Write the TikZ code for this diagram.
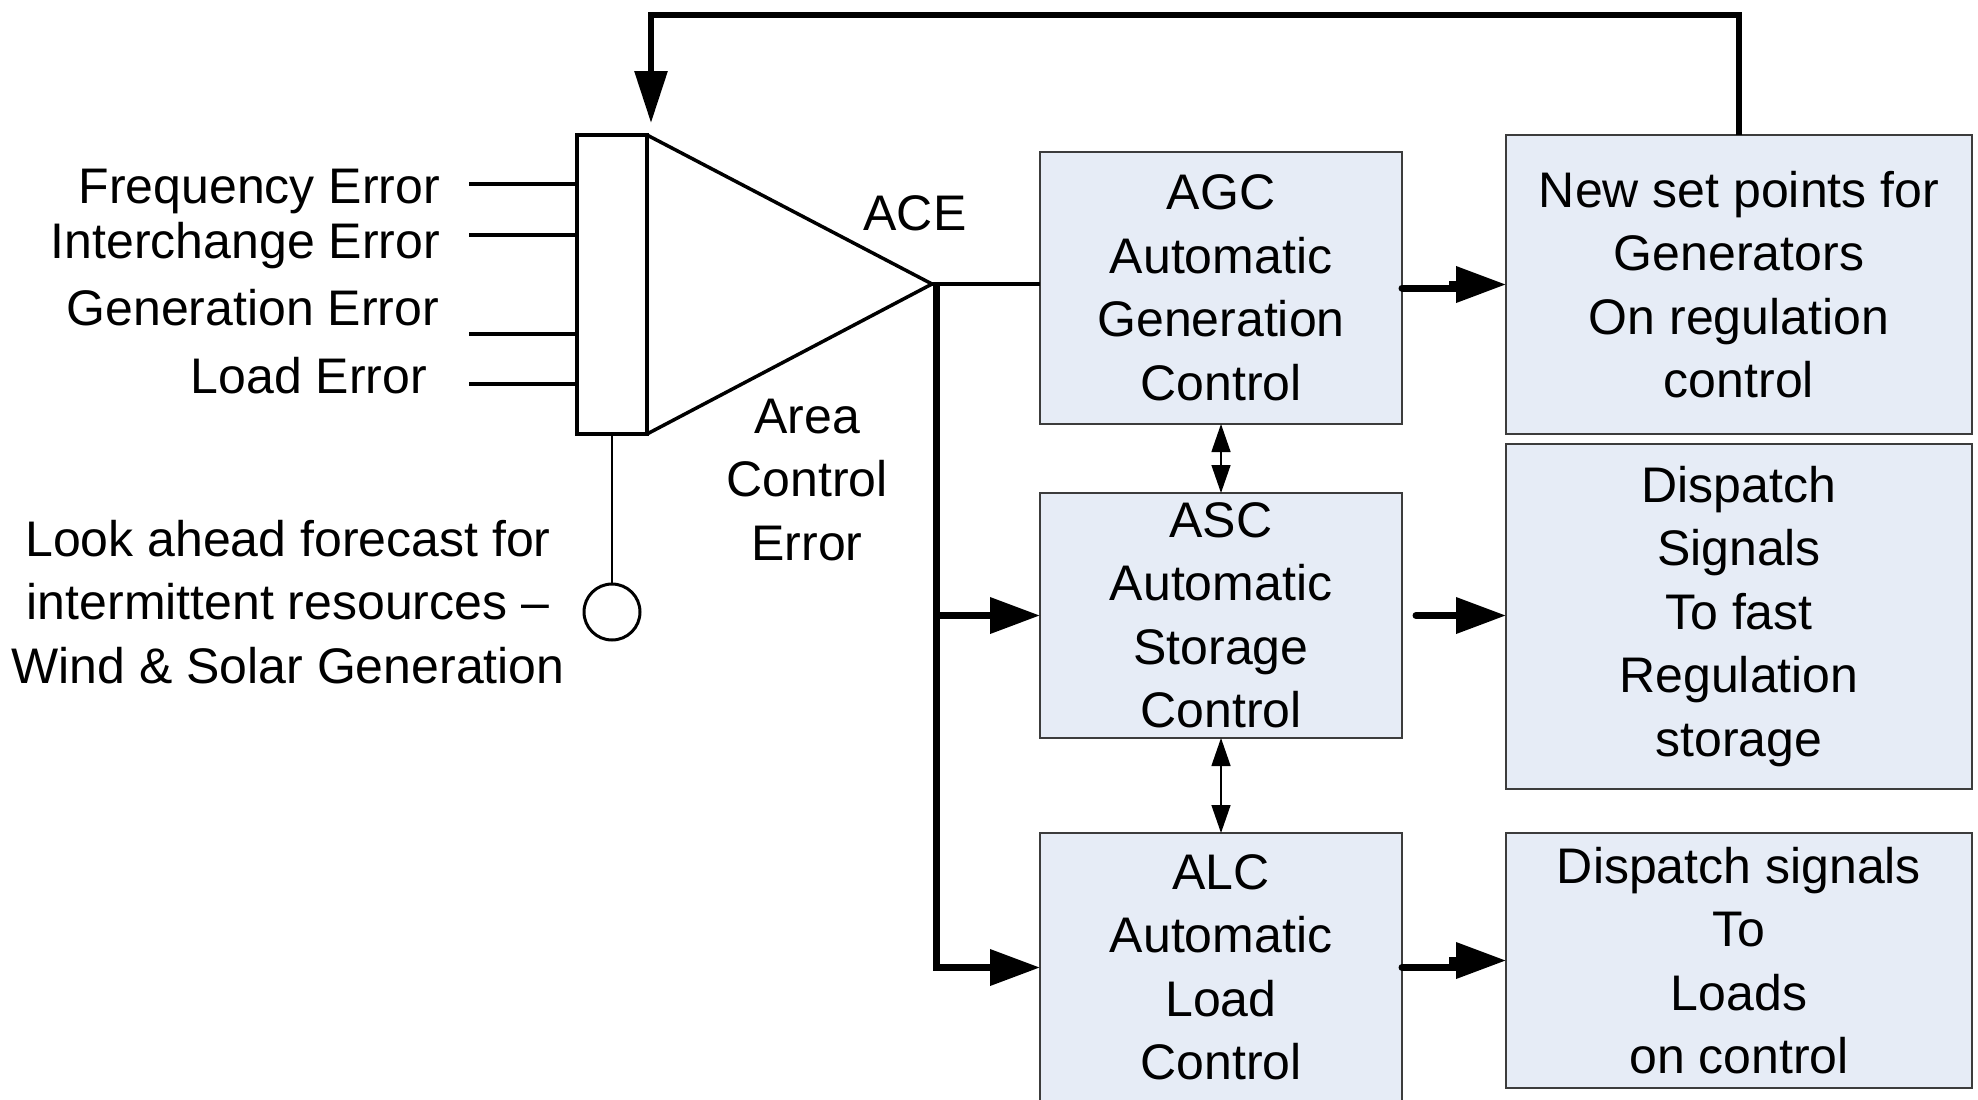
\documentclass[tikz,border=0pt]{standalone}
\usepackage{fontspec}
\setmainfont{Liberation Sans}
\usetikzlibrary{arrows.meta,calc}
\definecolor{boxfill}{RGB}{230,236,246}
\definecolor{boxline}{RGB}{60,60,60}

\begin{document}
\begin{tikzpicture}[x=1pt,y=-1pt,
  every node/.style={font=\fontsize{50}{63.5}\selectfont, inner sep=0pt, outer sep=0pt},
  ctrlbox/.style={draw=boxline, line width=1.4pt, fill=boxfill, align=center},
  lbl/.style={align=center},
  wire/.style={line width=3.5pt},
  inwire/.style={line width=4pt},
  busline/.style={line width=7pt},
  bigtip/.style={-{Triangle[length=50pt,width=35pt]}},
  bothtips/.style={{Triangle[length=28pt,width=19pt]}-{Triangle[length=28pt,width=19pt]}, line width=1.4pt},
]
\useasboundingbox (0,0) rectangle (1978,1100);

% summing block and amplifier
\node[draw, line width=3.5pt, minimum width=70pt, minimum height=299pt] (sum) at (612,284.5) {};
\coordinate (apex) at (932,284);
\draw[wire, line join=miter] (sum.north east) -- (apex) -- (sum.south east);

% error inputs
\coordinate (in1) at (469,184);
\coordinate (in2) at (469,235);
\coordinate (in3) at (469,334);
\coordinate (in4) at (469,384);
\foreach \c in {in1,in2,in3,in4}
  \draw[inwire] (\c) -- (\c -| sum.west);
\node[anchor=base east] (lfreq) at (440,203) {Frequency Error};
\node[anchor=base east] (linter) at (440,258) {Interchange Error};
\node[anchor=base east] (lgen) at (439,325) {Generation Error};
\node[anchor=base east] (lload) at (427,393) {Load Error};

% forecast input (base anchor sits on the last line)
\node[draw, circle, line width=3pt, minimum size=56pt] (fc) at (612,612) {};
\draw[line width=2.5pt] (sum.south) -- (fc.north);
\node[lbl, anchor=base] (fclbl) at (288,683) {Look ahead forecast for\\intermittent resources –\\Wind \& Solar Generation};

% amplifier labels
\node[anchor=base] (ace) at (915,230) {ACE};
\node[lbl, anchor=base] (acelbl) at (807,560) {Area\\Control\\Error};

% control blocks
\node[ctrlbox, minimum width=362pt, minimum height=272pt] (agc) at (1221,288) {AGC\\Automatic\\Generation\\Control};
\node[ctrlbox, minimum width=362pt, minimum height=245pt] (asc) at (1221,615.5) {ASC\\Automatic\\Storage\\Control};
\node[ctrlbox, minimum width=362pt, minimum height=269pt] (alc) at (1221,967.5) {ALC\\Automatic\\Load\\Control};

% output blocks
\node[ctrlbox, minimum width=466pt, minimum height=299pt] (newsp) at (1739,284.5) {New set points for\\Generators\\On regulation\\control};
\node[ctrlbox, minimum width=466pt, minimum height=345pt] (disp) at (1739,616.5) {Dispatch\\Signals\\To fast\\Regulation\\storage};
\node[ctrlbox, minimum width=466pt, minimum height=255pt] (dsig) at (1739,960.5) {Dispatch signals\\To\\Loads\\on control};

% ACE distribution
\coordinate (bus) at (936,284);
\draw[wire] (apex) -- (agc.west |- apex);
\draw[busline, bigtip, line join=miter] (bus) |- (alc.west);
\draw[busline, bigtip] (bus |- asc.west) -- (asc.west);

% block outputs
\draw[busline, bigtip, line cap=round] (agc.east) -- ++(50,0) |- (newsp.west);
\draw[busline, bigtip, line cap=round] ($(asc.east)+(14,0)$) -- (disp.west |- asc.east);
\draw[busline, bigtip, line cap=round] (alc.east) -- ++(50,0) |- (dsig.west);

% coordination between control blocks
\draw[bothtips] (agc.south) -- (asc.north);
\draw[bothtips] (asc.south) -- (alc.north);

% set point feedback
\coordinate (fbtop) at (651,15);
\coordinate (fbin) at (651,123);
\draw[line width=6pt, line join=miter, -{Triangle[length=52pt,width=32pt]}] (newsp.north) |- (fbtop) -- (fbin);
\end{tikzpicture}
\end{document}
